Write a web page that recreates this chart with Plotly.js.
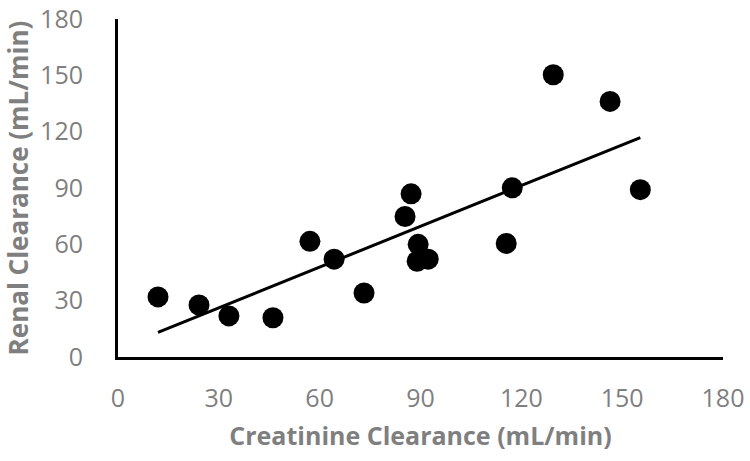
<!DOCTYPE html>
<html>
<head>
<meta charset="utf-8">
<script src="https://cdn.plot.ly/plotly-3.0.1.min.js"></script>
<style>html,body{margin:0;padding:0;background:#fff;}#chart{width:750px;height:461px;}</style>
</head>
<body>
<div id="chart"></div>
<script>
var creatinineClearance = [11.9, 24.1, 33.0, 46.1, 57.1, 64.3, 73.2, 85.4, 87.2, 89.3, 89.0, 92.3, 115.5, 117.3, 129.5, 146.4, 155.4];
var renalClearance     = [32.0, 27.7, 21.9, 20.9, 61.6, 52.1, 34.1, 74.8, 86.9, 60.0, 51.0, 52.1, 60.5, 90.1, 150.3, 136.1, 89.1];
var tickValues = [0, 30, 60, 90, 120, 150, 180];
var xTitle = "Creatinine Clearance (mL/min)";
var yTitle = "Renal Clearance (mL/min)";

// least-squares linear trendline
var n = creatinineClearance.length, sx = 0, sy = 0, sxx = 0, sxy = 0;
for (var i = 0; i < n; i++) {
  var a = creatinineClearance[i], b = renalClearance[i];
  sx += a; sy += b; sxx += a * a; sxy += a * b;
}
var slope = (n * sxy - sx * sy) / (n * sxx - sx * sx);
var intercept = (sy - slope * sx) / n;
var xmin = Math.min.apply(null, creatinineClearance), xmax = Math.max.apply(null, creatinineClearance);

var grayTxt = '#7f7f7f';
var data = [
  {x: [xmin, xmax], y: [intercept + slope * xmin, intercept + slope * xmax], mode: 'lines',
   line: {color: '#000', width: 3}, hoverinfo: 'skip', showlegend: false},
  {x: creatinineClearance, y: renalClearance, mode: 'markers', type: 'scatter',
   marker: {color: '#000', size: 21}, showlegend: false}
];
var layout = {
  width: 750, height: 461,
  margin: {l: 118, r: 27, t: 19, b: 104},
  paper_bgcolor: '#fff', plot_bgcolor: '#fff',
  font: {family: 'Open Sans, sans-serif', color: grayTxt, size: 25},
  xaxis: {range: [0, 180], tickvals: tickValues, showgrid: false, zeroline: false,
    showline: true, linecolor: '#000', linewidth: 3, ticks: '', ticklabelstandoff: 17,
    ticklabeloverflow: 'allow', tickfont: {size: 25, color: grayTxt},
    title: {text: xTitle, font: {size: 25, color: grayTxt, weight: 'bold'}, standoff: 15}},
  yaxis: {range: [0, 180], tickvals: tickValues, showgrid: false, zeroline: false,
    showline: true, linecolor: '#000', linewidth: 3, ticks: '', ticklabelstandoff: 27,
    ticklabeloverflow: 'allow', tickfont: {size: 25, color: grayTxt},
    title: {text: yTitle, font: {size: 26, color: grayTxt, weight: 'bold'}, standoff: 8}}
};
Plotly.newPlot('chart', data, layout, {displayModeBar: false, staticPlot: true});
</script>
</body>
</html>
